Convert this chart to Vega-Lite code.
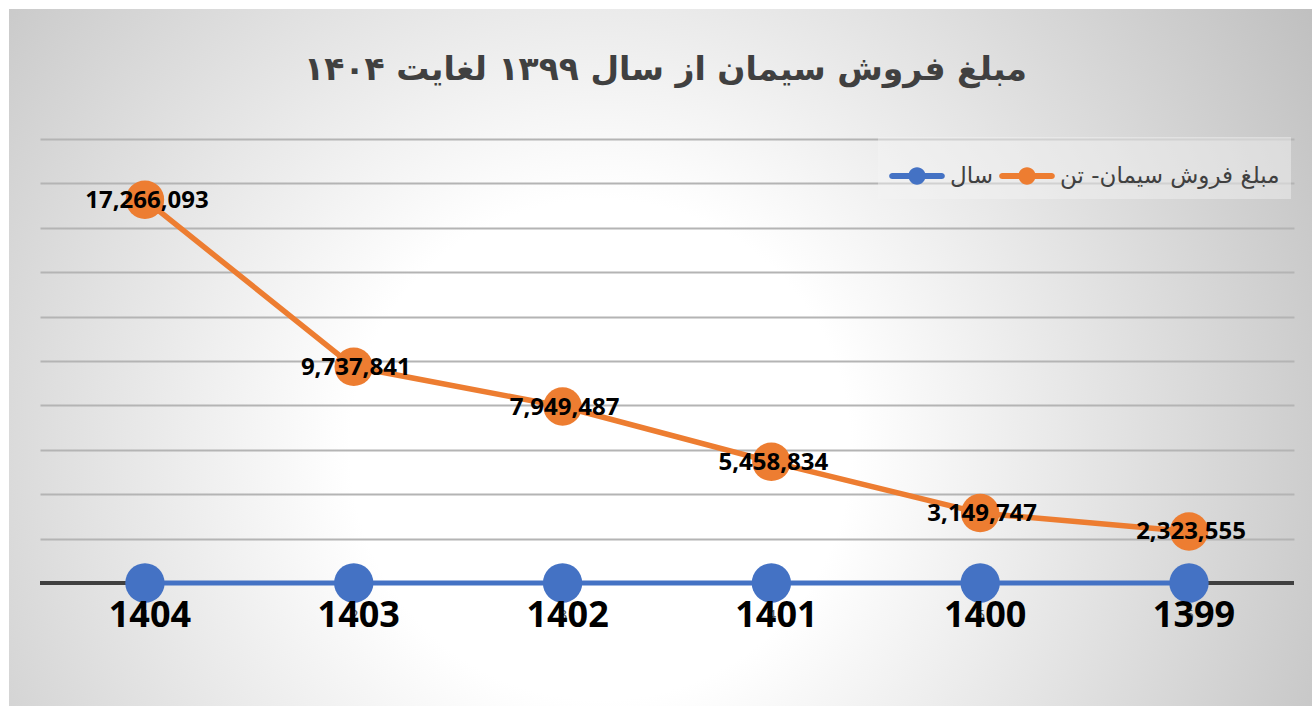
{
  "$schema": "https://vega.github.io/schema/vega-lite/v6.json",
  "width": 1303,
  "height": 697,
  "autosize": "none",
  "padding": {"left": 9, "top": 9, "right": 0, "bottom": 0},
  "background": "#ffffff",
  "view": {
    "stroke": null,
    "fill": {
      "gradient": "radial",
      "x1": 0.454, "y1": 0.571, "r1": 0,
      "x2": 0.454, "y2": 0.571, "r2": 0.64,
      "stops": [
        {"offset": 0, "color": "#ffffff"},
        {"offset": 0.3, "color": "#ffffff"},
        {"offset": 1, "color": "#c0c0c0"}
      ]
    }
  },
  "title": {
    "text": "مبلغ فروش سیمان از سال ۱۳۹۹ لغایت ۱۴۰۴",
    "font": "DejaVu Sans",
    "fontSize": 33,
    "fontWeight": "bold",
    "color": "#404040",
    "anchor": "middle",
    "offset": -78,
    "dx": 5
  },
  "data": {
    "values": [
      {"idx": 1, "year": 1404, "value": 17266093},
      {"idx": 2, "year": 1403, "value": 9737841},
      {"idx": 3, "year": 1402, "value": 7949487},
      {"idx": 4, "year": 1401, "value": 5458834},
      {"idx": 5, "year": 1400, "value": 3149747},
      {"idx": 6, "year": 1399, "value": 2323555}
    ]
  },
  "layer": [
    {
      "mark": {"type": "rule", "color": "#404040", "strokeWidth": 3.5, "strokeDash": [1254, 49], "strokeDashOffset": 1285},
      "encoding": {
        "y": {"datum": 0, "type": "quantitative"}
      }
    },
    {
      "mark": {"type": "line", "strokeWidth": 5, "strokeCap": "butt"},
      "encoding": {
        "x": {
          "field": "idx",
          "type": "ordinal",
          "scale": {"type": "point", "padding": 0.62, "align": 0.525},
          "axis": {
            "orient": "bottom",
            "offset": -123,
            "domain": false,
            "ticks": false,
            "tickSize": 0,
            "grid": false,
            "title": null,
            "labelAngle": 0,
            "labelPadding": 24,
            "labelFont": "Open Sans",
            "labelFontSize": 15,
            "labelColor": "#595959"
          }
        },
        "y": {
          "field": "year",
          "type": "quantitative",
          "scale": {"domain": [-5541000, 25856000], "nice": false, "zero": false},
          "axis": {
            "orient": "left",
            "title": null,
            "labels": false,
            "ticks": false,
            "domain": false,
            "grid": true,
            "values": [2000000, 4000000, 6000000, 8000000, 10000000, 12000000, 14000000, 16000000, 18000000, 20000000],
            "gridColor": "#b4b4b4",
            "gridWidth": 1.8,
            "gridDash": [1254, 49],
            "gridDashOffset": 1272
          }
        },
        "color": {
          "datum": "سال",
          "scale": {"domain": ["سال", "مبلغ فروش سیمان- تن"], "range": ["#4472C4", "#ED7D31"]},
          "legend": {
            "orient": "none",
            "legendX": 869,
            "legendY": 128,
            "direction": "horizontal",
            "title": null,
            "symbolType": "M-0.89,-0.11 L0.89,-0.11 A0.11,0.11 0 0,1 0.89,0.11 L-0.89,0.11 A0.11,0.11 0 0,1 -0.89,-0.11 Z M-0.31,0 A0.31,0.31 0 1,1 0.31,0 A0.31,0.31 0 1,1 -0.31,0 Z",
            "symbolSize": 3100,
            "symbolStrokeWidth": 0,
            "labelFont": "DejaVu Sans",
            "labelFontSize": 23,
            "labelColor": "#404040",
            "labelOffset": 5,
            "columnPadding": 6,
            "padding": 11,
            "fillColor": "rgba(245,245,245,0.45)",
            "labelLimit": 400,
            "encode": {
              "symbols": {
                "update": {
                  "fill": {"scale": "color", "field": "value"},
                  "stroke": {"value": "transparent"},
                  "opacity": {"value": 1}
                }
              }
            }
          }
        }
      }
    },
    {
      "mark": {"type": "point", "filled": true, "opacity": 1, "size": 1550, "color": "#4472C4"},
      "encoding": {
        "x": {"field": "idx", "type": "ordinal"},
        "y": {"field": "year", "type": "quantitative"}
      }
    },
    {
      "mark": {"type": "line", "strokeWidth": 5.5},
      "encoding": {
        "x": {"field": "idx", "type": "ordinal"},
        "y": {"field": "value", "type": "quantitative"},
        "color": {"datum": "مبلغ فروش سیمان- تن"}
      }
    },
    {
      "mark": {"type": "point", "filled": true, "opacity": 1, "size": 1480, "color": "#ED7D31"},
      "encoding": {
        "x": {"field": "idx", "type": "ordinal"},
        "y": {"field": "value", "type": "quantitative"}
      }
    },
    {
      "mark": {"type": "text", "font": "Open Sans", "fontSize": 24, "fontWeight": "bold", "color": "#000000", "baseline": "middle", "align": "center", "dx": 2, "dy": 1},
      "encoding": {
        "x": {"field": "idx", "type": "ordinal"},
        "y": {"field": "value", "type": "quantitative"},
        "text": {"field": "value", "type": "quantitative", "format": ",d"}
      }
    },
    {
      "mark": {"type": "text", "font": "Open Sans", "fontSize": 36, "fontWeight": "bold", "color": "#000000", "baseline": "middle", "align": "center", "dx": 5, "dy": 33},
      "encoding": {
        "x": {"field": "idx", "type": "ordinal"},
        "y": {"field": "year", "type": "quantitative"},
        "text": {"field": "year", "type": "nominal"}
      }
    }
  ]
}
